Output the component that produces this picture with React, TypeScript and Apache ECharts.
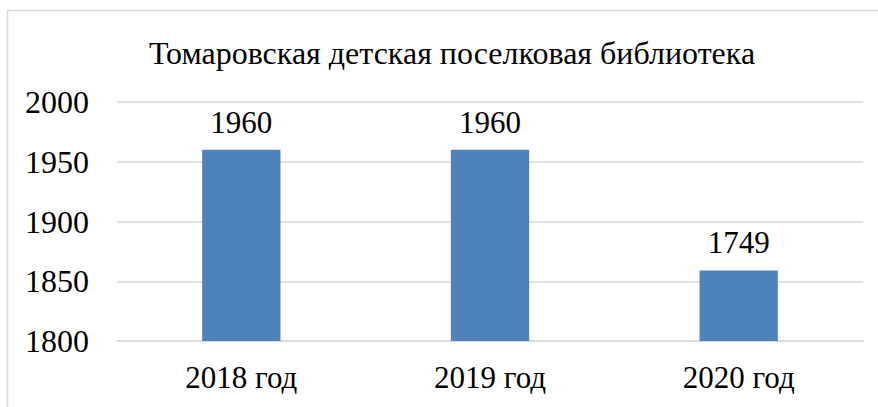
import React, { useEffect, useRef } from "react";
import * as echarts from "echarts";

const title = "Томаровская детская поселковая библиотека";
const categories = ["2018 год", "2019 год", "2020 год"];
const values = [1960, 1960, 1859];
const valueLabels = ["1960", "1960", "1749"];
const yMin = 1800;
const yMax = 2000;
const yInterval = 50;

const FONT = "Liberation Serif";

export default function App() {
  const ref = useRef<HTMLDivElement>(null);
  useEffect(() => {
    if (!ref.current) return;
    const chart = echarts.init(ref.current, undefined, { renderer: "svg" });
    chart.setOption({
      animation: false,
      backgroundColor: "#ffffff",
      textStyle: { fontFamily: FONT },
      title: {
        text: title,
        left: 447,
        textAlign: "center",
        top: 32,
        textStyle: { fontFamily: FONT, fontSize: 32, fontWeight: "normal", color: "#000" },
      },
      graphic: [
        {
          type: "rect",
          shape: { x: 7.5, y: 10.5, width: 880, height: 410 },
          style: { fill: "none", stroke: "#d9d9d9", lineWidth: 1.5 },
          silent: true,
        },
      ],
      grid: { left: 117, right: 15, top: 102, bottom: 66 },
      xAxis: {
        type: "category",
        data: categories,
        axisLine: { lineStyle: { color: "#d9d9d9", width: 1.5 } },
        axisTick: { show: false },
        axisLabel: { fontFamily: FONT, fontSize: 31, color: "#000", margin: 21 },
      },
      yAxis: {
        type: "value",
        min: yMin,
        max: yMax,
        interval: yInterval,
        axisLine: { show: false },
        axisTick: { show: false },
        splitLine: { lineStyle: { color: "#d9d9d9", width: 1.5 } },
        axisLabel: {
          fontFamily: FONT,
          fontSize: 32,
          color: "#000",
          margin: 28,
          formatter: (v: number) => String(v),
        },
      },
      series: [
        {
          type: "bar",
          data: values,
          barWidth: "31.5%",
          itemStyle: { color: "#4F81BD" },
          label: {
            show: true,
            position: "top",
            distance: 12,
            fontFamily: FONT,
            fontSize: 31,
            color: "#000",
            formatter: (p: any) => valueLabels[p.dataIndex],
          },
        },
      ],
    });
    return () => chart.dispose();
  }, []);
  return (
    <div
      ref={ref}
      style={{ position: "absolute", left: 0, top: 0, width: 878, height: 407 }}
    />
  );
}
